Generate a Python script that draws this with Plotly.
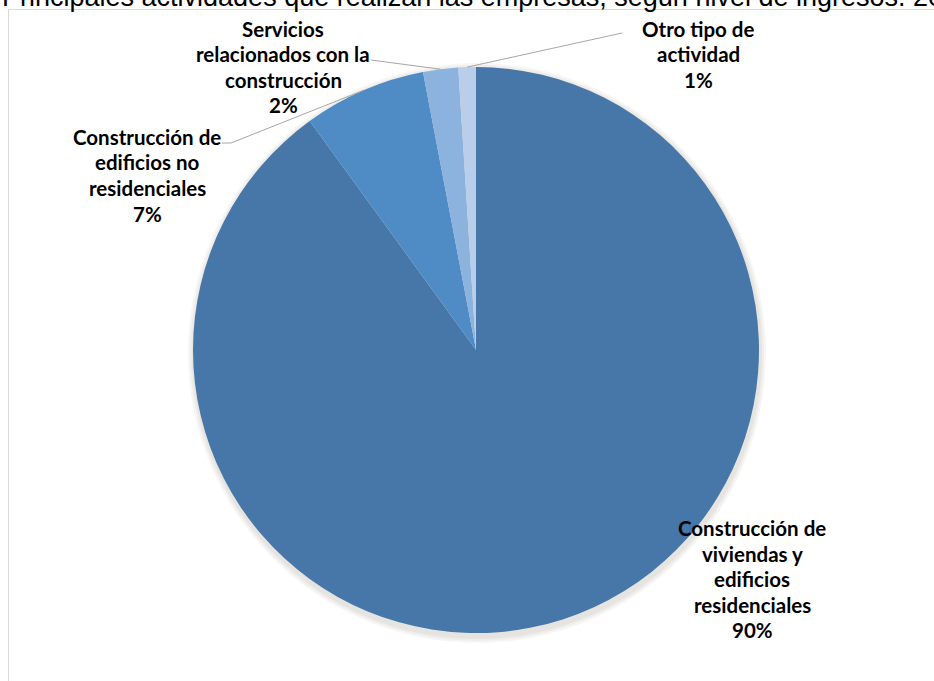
import math
import plotly.graph_objects as go

# Data
categorias = [
    "Construcción de<br>viviendas y<br>edificios<br>residenciales",
    "Construcción de<br>edificios no<br>residenciales",
    "Servicios<br>relacionados con la<br>construcción",
    "Otro tipo de<br>actividad",
]
porcentajes = [90, 7, 2, 1]
colores = ["#4677A8", "#4F8CC6", "#8CB2DE", "#B8CEEA"]
titulo = "Principales actividades que realizan las empresas, según nivel de ingresos. 2016"

W, H = 934, 681
CX, CY, R = 476, 350, 283  # pie centre / radius in pixels


def px(x):
    return x / W


def py(y):
    return 1 - y / H


fig = go.Figure()

fig.add_trace(go.Pie(
    labels=[c.replace("<br>", " ") for c in categorias],
    values=porcentajes,
    sort=False,
    direction="clockwise",
    rotation=0,
    marker=dict(colors=colores, line=dict(width=0)),
    textinfo="none",
    hoverinfo="label+percent",
    showlegend=False,
    domain=dict(x=[px(CX - R), px(CX + R)], y=[py(CY + R), py(CY - R)]),
))

# Soft drop shadow under the pie
shapes = []
for k, a in enumerate([0.05, 0.05, 0.06]):
    grow = 6 - 2 * k
    shapes.append(dict(
        type="circle", xref="paper", yref="paper", layer="below",
        x0=px(CX - R - grow + 1), x1=px(CX + R + grow + 1),
        y0=py(CY + R + grow + 4), y1=py(CY - R - grow + 2),
        fillcolor=f"rgba(90,80,60,{a})", line=dict(width=0),
    ))

# Chart-area frame
shapes.append(dict(
    type="rect", xref="paper", yref="paper",
    x0=px(8.5), y0=py(9.5), x1=1.05, y1=-0.05,
    line=dict(color="#D9D9D9", width=1), fillcolor="rgba(0,0,0,0)",
))

# Slice mid-angles (clockwise from 12 o'clock) for the leader lines
total = sum(porcentajes)
mid_angles = []
acc = 0
for v in porcentajes:
    mid_angles.append((acc + v / 2) / total * 360)
    acc += v


def edge_point(angle_deg):
    a = math.radians(angle_deg)
    return CX + R * math.sin(a), CY - R * math.cos(a)


# Label layout: centre x, first-line y, leader line start (None = no leader)
label_pos = [
    (752, 528, None),
    (147, 137, [(222, 143), (231, 143)]),
    (283, 29, [(371, 60)]),
    (698, 29, [(622, 33)]),
]
LINE_H = 25.5
font_lbl = dict(family="Lato, 'Open Sans', sans-serif", size=20.5, color="#000000")

annotations = []
for i, (cat, val) in enumerate(zip(categorias, porcentajes)):
    cx, y0, lead = label_pos[i]
    lines = cat.split("<br>") + [f"{val}%"]
    for j, t in enumerate(lines):
        annotations.append(dict(
            text=f"<b>{t}</b>", x=px(cx), y=py(y0 + j * LINE_H),
            xref="paper", yref="paper", xanchor="center", yanchor="middle",
            showarrow=False, font=font_lbl,
        ))
    if lead:
        ex, ey = edge_point(mid_angles[i])
        pts = lead + [(ex, ey)]
        path = "M " + " L ".join(f"{px(a)},{py(b)}" for a, b in pts)
        shapes.append(dict(
            type="path", xref="paper", yref="paper", path=path,
            line=dict(color="#A6A6A6", width=1),
        ))

annotations.append(dict(
    text=titulo, x=0, y=py(-3.5), xref="paper", yref="paper",
    xanchor="left", yanchor="middle", showarrow=False,
    font=dict(family="Liberation Sans, Arial, sans-serif", size=27, color="#000000"),
))

fig.update_layout(
    width=W, height=H,
    margin=dict(l=0, r=0, t=0, b=0),
    paper_bgcolor="white", plot_bgcolor="white",
    shapes=shapes, annotations=annotations,
)

fig.write_html("out.html")
